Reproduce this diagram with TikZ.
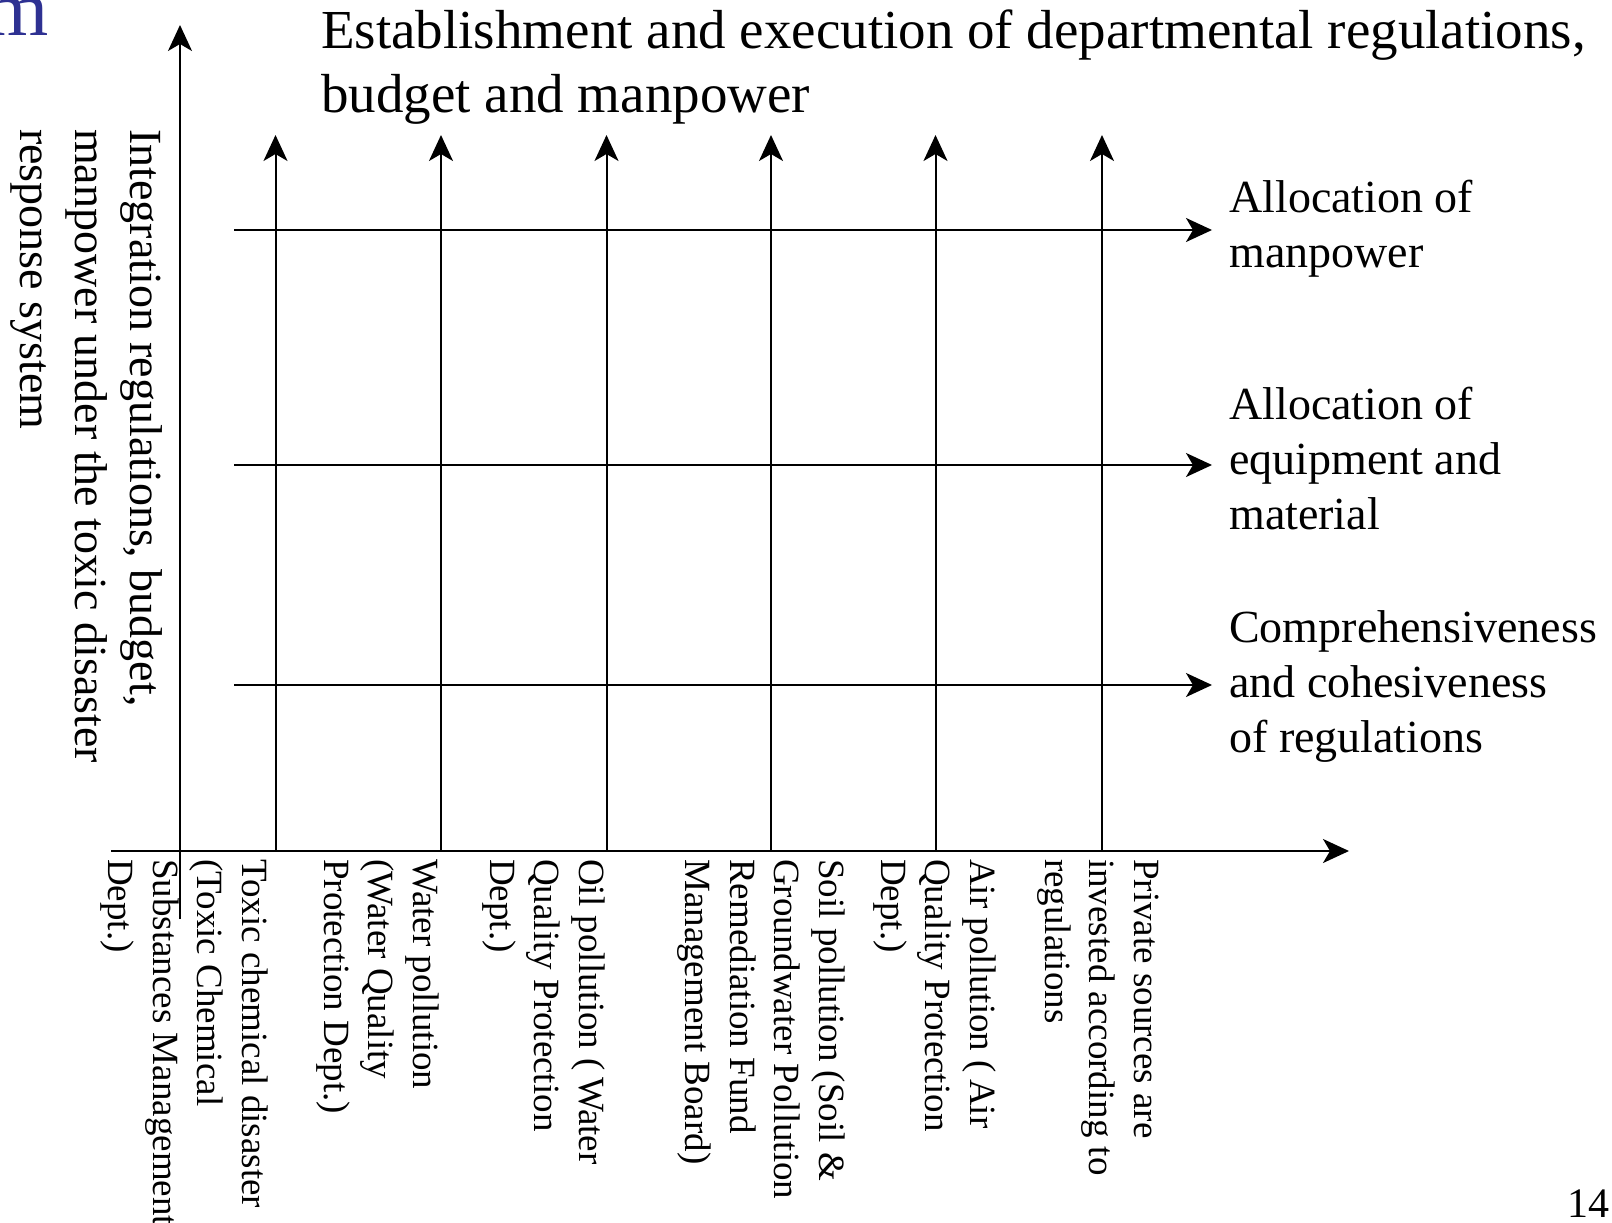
\documentclass[tikz,border=0pt]{standalone}
\usepackage{fontspec}
\setmainfont{Liberation Serif}
\usetikzlibrary{arrows.meta}
\definecolor{slideblue}{RGB}{46,49,146}
\begin{document}
\begin{tikzpicture}[x=1pt,y=-1pt,
  arr/.style={line width=2pt,-{Stealth[length=26pt,width=24pt,inset=7pt]}},
  plainline/.style={line width=2pt},
  vlabel/.style={rotate=-90,anchor=north west,align=left,inner sep=0pt,font=\fontsize{37}{44.5}\selectfont},
  ylab/.style={rotate=-90,anchor=north west,align=left,inner sep=0pt,font=\fontsize{46}{55}\selectfont},
  rlabel/.style={anchor=north west,align=left,inner sep=0pt,font=\fontsize{46}{55}\selectfont},
  titlelab/.style={anchor=north west,align=left,inner sep=0pt,font=\fontsize{55}{63.5}\selectfont}]
\useasboundingbox (0,0) rectangle (1612,1223);

% axes
\coordinate (yB) at (180,919);
\coordinate (yT) at (180,25);
\coordinate (xL) at (111,851);
\coordinate (xR) at (1349,851);
\draw[arr] (yB) -- (yT);
\draw[arr] (xL) -- (xR);

% vertical department arrows
\foreach \n/\x in {1/275.5,2/441,3/606.5,4/771,5/935.5,6/1102}{
  \coordinate (vb\n) at (\x,851);
  \coordinate (vt\n) at (\x,135);
  \draw[arr] (vb\n) -- (vt\n);
}

% horizontal arrows
\foreach \n/\y in {1/230,2/465,3/685}{
  \coordinate (hl\n) at (234,\y);
  \coordinate (hr\n) at (1212,\y);
  \draw[arr] (hl\n) -- (hr\n);
}

% title
\node[titlelab] (title) at (321,4) {\strut Establishment and execution of departmental regulations,\\budget and manpower};

% right labels
\node[rlabel] (r1) at (1229,173.5) {\strut Allocation of\\manpower};
\node[rlabel] (r2) at (1229,380.5) {\strut Allocation of\\equipment and\\material};
\node[rlabel] (r3) at (1229,603.5) {\strut Comprehensiveness\\and cohesiveness\\of regulations};

% left vertical label
\node[ylab] (ylabel) at (169.5,129) {\strut Integration regulations, budget,\\manpower under the toxic disaster\\response system};

% bottom labels
\node[vlabel] (b1) at (273.5,859) {\strut Toxic chemical disaster\\(Toxic Chemical\\Substances Management\\Dept.)};
\node[vlabel] (b2) at (444.5,859) {\strut Water pollution\\(Water Quality\\Protection Dept.)};
\node[vlabel] (b3) at (610.5,859) {\strut Oil pollution (\,Water\\Quality Protection\\Dept.)};
\node[vlabel] (b4) at (850.5,859) {\strut Soil pollution (Soil \&\\Groundwater Pollution\\Remediation Fund\\Management Board)};
\node[vlabel] (b5) at (1001.5,859) {\strut Air pollution (\,Air\\Quality Protection\\Dept.)};
\node[vlabel] (b6) at (1165.5,859) {\strut Private sources are\\invested according to\\regulations};

% slide remnants
\node[text=slideblue,font=\fontsize{80}{96}\selectfont,anchor=base east,inner sep=0pt] (mchar) at (49,36) {m};
\node[font=\fontsize{42}{50}\selectfont,anchor=base east,inner sep=0pt] (pnum) at (1610,1217) {14};
\end{tikzpicture}
\end{document}
